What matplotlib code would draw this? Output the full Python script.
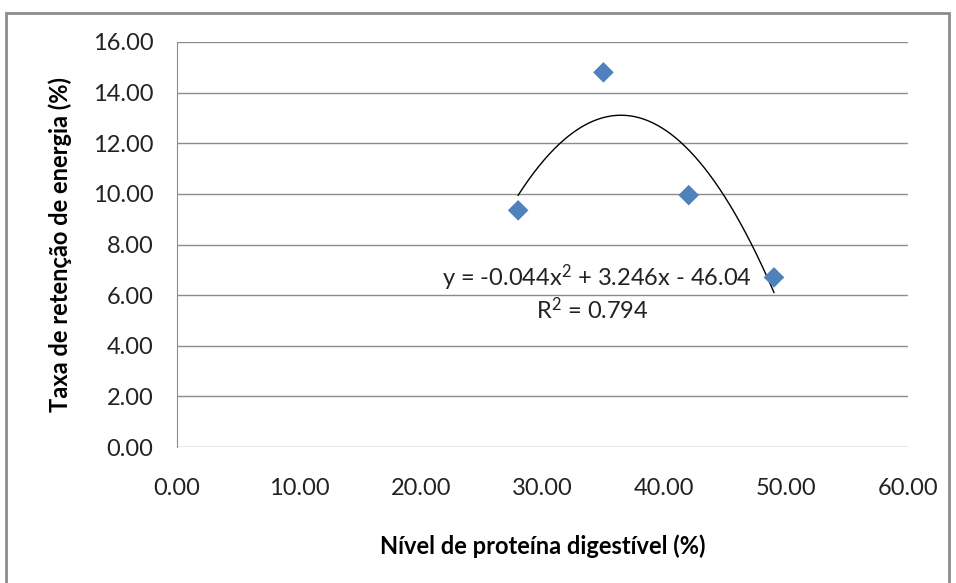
import numpy as np
import matplotlib.pyplot as plt
from matplotlib.patches import Rectangle

# data
nivel_proteina = [28, 35, 42, 49]
taxa_retencao = [9.35, 14.8, 9.95, 6.7]
x_ticks = [0, 10, 20, 30, 40, 50, 60]
y_ticks = [0, 2, 4, 6, 8, 10, 12, 14, 16]
equacao = "y = -0.044x$^2$ + 3.246x - 46.04"
r2_texto = "R$^2$ = 0.794"

plt.rcParams['font.family'] = ['Lato', 'DejaVu Sans']
plt.rcParams['mathtext.fontset'] = 'custom'
plt.rcParams['mathtext.rm'] = 'Lato'
plt.rcParams['mathtext.it'] = 'Lato'

fig = plt.figure(figsize=(9.56, 5.83), dpi=100)
ax = fig.add_axes([177 / 956, 1 - 447 / 583, (908 - 177) / 956, (447 - 42) / 583])

# chart border (Excel style)
fig.patches.append(Rectangle((6 / 956, -0.05), (949 - 6) / 956, 1.05 - 13 / 583,
                             transform=fig.transFigure, fill=False,
                             edgecolor='#8c8c8c', linewidth=2))

# polynomial trendline (order 2)
coef = np.polyfit(nivel_proteina, taxa_retencao, 2)
xs = np.linspace(min(nivel_proteina), max(nivel_proteina), 200)
ax.plot(xs, np.polyval(coef, xs), color='black', linewidth=1, zorder=2)

ax.scatter(nivel_proteina, taxa_retencao, marker='D', s=110, color='#4F81BD',
           edgecolors='none', zorder=3)

ax.set_xlim(0, 60)
ax.set_ylim(0, 16)
ax.set_xticks(x_ticks)
ax.set_yticks(y_ticks)
ax.set_xticklabels([f"{v:.2f}" for v in x_ticks])
ax.set_yticklabels([f"{v:.2f}" for v in y_ticks])
ax.tick_params(length=0, labelsize=17, colors='#222222')
ax.tick_params(axis='y', pad=17)
ax.tick_params(axis='x', pad=22)
ax.grid(axis='y', color='#8c8c8c', linewidth=1)
ax.set_axisbelow(True)
for s in ['top', 'right', 'bottom']:
    ax.spines[s].set_visible(False)
ax.spines['left'].set_color('#8c8c8c')

ax.set_xlabel("Nível de proteína digestível (%)", fontsize=17, fontweight='bold', labelpad=26)
ax.set_ylabel("Taxa de retenção de energia (%)", fontsize=17, fontweight='bold', labelpad=15)

ax.text(597 / 956, 1 - 278 / 583, equacao, transform=fig.transFigure,
        ha='center', va='center', fontsize=17, color='#222222')
ax.text(592 / 956, 1 - 310 / 583, r2_texto, transform=fig.transFigure,
        ha='center', va='center', fontsize=17, color='#222222')

fig.savefig('out.png', dpi=100)
